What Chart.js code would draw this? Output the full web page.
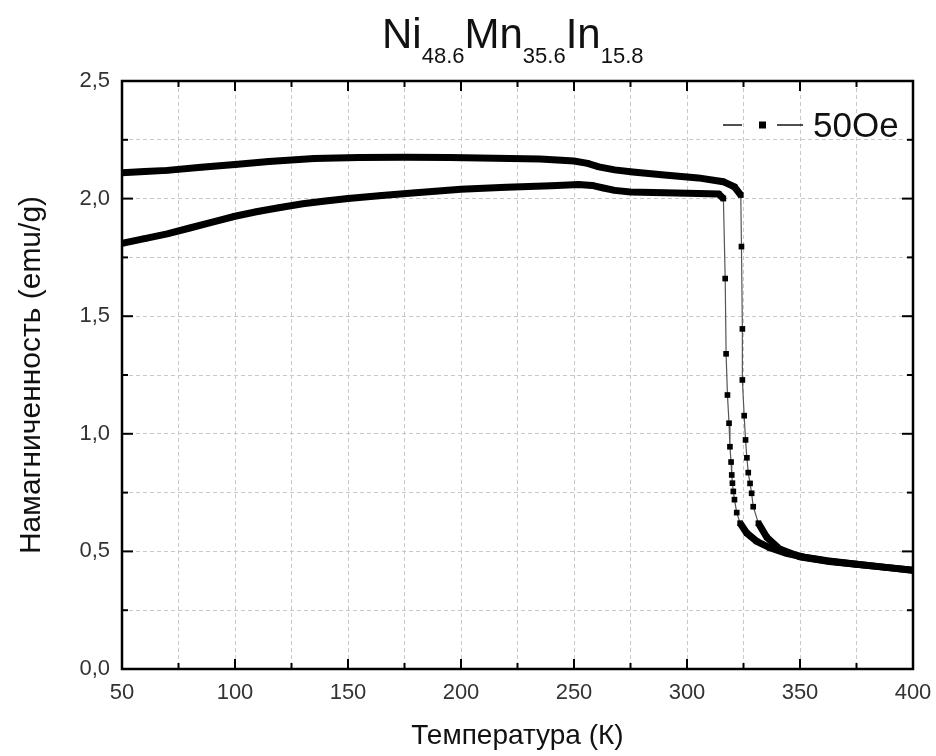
<!DOCTYPE html>
<html>
<head>
<meta charset="utf-8">
<script src="https://cdn.jsdelivr.net/npm/chart.js@4"></script>
<style>
  body { margin: 0; background: #fff; font-family: "Liberation Sans", Arial, sans-serif; }
  #wrap { position: relative; width: 936px; height: 756px; }
  #title { position: absolute; left: 382px; top: 13px; font-size: 42px; line-height: 42px; white-space: nowrap; color: #111; }
  #title sub { font-size: 22px; vertical-align: -15px; line-height: 0; }
  #legend-mark { position: absolute; left: 720px; top: 110px; }
  #legend-text { position: absolute; left: 813px; top: 107px; font-size: 35px; line-height: 36px; color: #111; }
</style>
</head>
<body>
<div id="wrap">
  <canvas id="chart" width="936" height="756"></canvas>
  <div id="title">Ni<sub>48.6</sub>Mn<sub>35.6</sub>In<sub>15.8</sub></div>
  <svg id="legend-mark" width="90" height="30">
    <line x1="3" y1="15" x2="22" y2="15" stroke="#222" stroke-width="1.6"/>
    <rect x="39" y="11.5" width="7" height="7" fill="#000"/>
    <line x1="57" y1="15" x2="83" y2="15" stroke="#222" stroke-width="1.6"/>
  </svg>
  <div id="legend-text">50Oe</div>
</div>
<script>
// ZFC-нагрев (нижняя ветвь) и FC-охлаждение (верхняя ветвь), 50 Oe
const zfcT = [50, 60, 70, 80, 90, 100, 110, 120, 130, 140, 150, 165, 180, 200, 220, 240, 252, 258, 263, 268, 275, 290, 305, 314, 316.1,
              316.9, 317.3, 317.9, 318.6, 319.0, 319.5, 319.8, 320.1, 320.5, 321.0, 322.0, 323.5, 326.4, 330.8, 336.7, 344, 352, 362, 375, 388, 400];
const zfcM = [1.81, 1.83, 1.85, 1.875, 1.90, 1.925, 1.945, 1.962, 1.978, 1.99, 2.0, 2.013, 2.025, 2.04, 2.048, 2.055, 2.06, 2.056, 2.045, 2.035, 2.028, 2.025, 2.022, 2.02, 2.0,
              1.66, 1.34, 1.165, 1.045, 0.945, 0.88, 0.825, 0.79, 0.755, 0.72, 0.665, 0.62, 0.578, 0.543, 0.515, 0.492, 0.475, 0.46, 0.445, 0.432, 0.42];

const fcT = [400, 388, 375, 363, 350, 341, 335.3, 331.6, 329.3, 328.6, 327.9, 327.1, 326.5, 325.9, 325.3, 324.5, 324.5, 324.1, 323.8,
             321, 316, 305, 290, 276, 268, 261, 256, 250, 235, 215, 195, 175, 155, 135, 115, 100, 85, 70, 60, 50];
const fcM = [0.42, 0.432, 0.445, 0.457, 0.477, 0.51, 0.56, 0.62, 0.69, 0.747, 0.789, 0.835, 0.898, 0.974, 1.077, 1.229, 1.446, 1.796, 2.015,
             2.05, 2.072, 2.088, 2.1, 2.113, 2.122, 2.135, 2.15, 2.16, 2.168, 2.172, 2.175, 2.176, 2.175, 2.17, 2.158, 2.145, 2.133, 2.12, 2.115, 2.11];

const xMin = 50, xMax = 400, xStep = 25;
const yMin = 0, yMax = 2.5, yStep = 0.25;
const xTitle = "Температура (К)";
const yTitle = "Намагниченность (emu/g)";

const FONT = '"Liberation Sans", Arial, sans-serif';

function toPoints(xs, ys) {
    return xs.map((v, i) => ({ x: v, y: ys[i] }));
}

// крутые участки тонкой линией, пологие - толстой полосой
function steep(ctx) {
    const dx = Math.abs(ctx.p1.x - ctx.p0.x);
    const dy = Math.abs(ctx.p1.y - ctx.p0.y);
    return dy > 6 && dy > 3 * dx;
}

function makeSet(label, xs, ys) {
    return {
        label: label,
        data: toPoints(xs, ys),
        showLine: true,
        borderColor: "#000",
        borderWidth: 7,
        pointStyle: "rect",
        pointRadius: 4,
        pointBackgroundColor: "#000",
        pointBorderWidth: 0,
        segment: {
            borderWidth: ctx => steep(ctx) ? 1.2 : 7,
            borderColor: ctx => steep(ctx) ? "#555" : "#000"
        }
    };
}

const frameTicks = {
    id: "frameTicks",
    afterDraw(chart) {
        const { ctx, chartArea: a, scales: { x, y } } = chart;
        ctx.save();
        ctx.strokeStyle = "#000";
        ctx.lineWidth = 2;
        const seg = (x1, y1, x2, y2) => { ctx.beginPath(); ctx.moveTo(x1, y1); ctx.lineTo(x2, y2); ctx.stroke(); };
        x.ticks.forEach(t => {
            const px = x.getPixelForValue(t.value);
            const len = t.value % 50 === 0 ? 10 : 6;
            seg(px, a.bottom, px, a.bottom - len);
            seg(px, a.top, px, a.top + len);
        });
        y.ticks.forEach(t => {
            const py = y.getPixelForValue(t.value);
            const major = Math.abs(t.value * 2 - Math.round(t.value * 2)) < 1e-6;
            const len = major ? 11 : 6;
            seg(a.left, py, a.left + len, py);
            seg(a.right, py, a.right - len, py);
        });
        ctx.lineWidth = 2.5;
        ctx.strokeRect(a.left, a.top, a.right - a.left, a.bottom - a.top);
        ctx.restore();
    }
};

new Chart(document.getElementById("chart"), {
    type: "scatter",
    data: {
        datasets: [
            makeSet("50Oe ZFC", zfcT, zfcM),
            makeSet("50Oe FC", fcT, fcM)
        ]
    },
    options: {
        responsive: false,
        animation: false,
        layout: { padding: { left: 0, top: 81, right: 23, bottom: 0 } },
        plugins: {
            legend: { display: false },
            tooltip: { enabled: false }
        },
        scales: {
            x: {
                type: "linear",
                min: xMin,
                max: xMax,
                afterFit: s => { s.height = 87; s.paddingLeft = 0; s.paddingRight = 0; },
                grid: { color: "#c8c8c8", lineWidth: 1, drawTicks: false },
                border: { display: false, dash: [4, 3] },
                ticks: {
                    stepSize: xStep,
                    autoSkip: false,
                    maxRotation: 0,
                    padding: 11,
                    color: "#333",
                    font: { family: FONT, size: 22 },
                    callback: v => v % 50 === 0 ? String(v) : ""
                },
                title: {
                    display: true,
                    text: xTitle,
                    color: "#111",
                    font: { family: FONT, size: 28 },
                    padding: { top: 0, bottom: 3 }
                }
            },
            y: {
                type: "linear",
                min: yMin,
                max: yMax,
                afterFit: s => { s.width = 122; s.paddingTop = 0; s.paddingBottom = 0; },
                grid: { color: "#c8c8c8", lineWidth: 1, drawTicks: false },
                border: { display: false, dash: [4, 3] },
                ticks: {
                    stepSize: yStep,
                    autoSkip: false,
                    padding: 12,
                    color: "#333",
                    font: { family: FONT, size: 22 },
                    callback: v => Math.abs(v * 2 - Math.round(v * 2)) < 1e-6 ? v.toFixed(1).replace(".", ",") : ""
                },
                title: {
                    display: true,
                    text: yTitle,
                    color: "#111",
                    font: { family: FONT, size: 30 },
                    padding: { top: 14, bottom: 0 }
                }
            }
        }
    },
    plugins: [frameTicks]
});
</script>
</body>
</html>
